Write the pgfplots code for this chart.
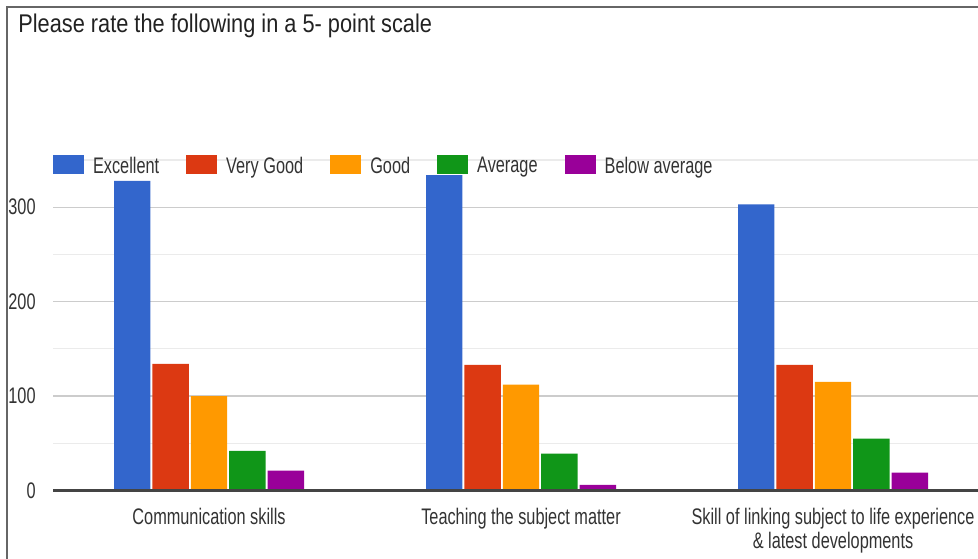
\documentclass[border=0pt]{standalone}
\usepackage{fontspec}
\setmainfont[FakeStretch=0.725]{Liberation Sans}
\newfontfamily\titlefont[FakeStretch=0.85]{Liberation Sans}
\usepackage{pgfplots}
\pgfplotsset{compat=1.18}

\definecolor{cBlue}{HTML}{3366CC}
\definecolor{cRed}{HTML}{DC3912}
\definecolor{cOrange}{HTML}{FF9900}
\definecolor{cGreen}{HTML}{109618}
\definecolor{cPurple}{HTML}{990099}
\definecolor{titlegray}{HTML}{222222}
\definecolor{labelgray}{HTML}{333333}
\definecolor{majorgrid}{HTML}{CCCCCC}
\definecolor{minorgrid}{HTML}{EBEBEB}
\definecolor{zeroline}{HTML}{444444}
\definecolor{framegray}{HTML}{666666}

% ratings per category: 0 = Communication, 1 = Teaching, 2 = Linking
\pgfplotstableread{
x  exc  vg   good avg below
0  328  134  100  42   21
1  334  133  112  39   6
2  303  133  115  55   19
}\ratings

\begin{document}
\begin{tikzpicture}
\useasboundingbox (0pt,0pt) rectangle (489pt,279pt);
\fill[white] (0pt,0pt) rectangle (489pt,279pt);
\draw[framegray, line width=1pt] (3.5pt,-1pt) -- (3.5pt,275.5pt) -- (490pt,275.5pt);
\node[anchor=base west, inner sep=0pt, text=titlegray,
      font=\titlefont\fontsize{12.8}{15}\selectfont]
  at (9pt,262.5pt) {Please rate the following in a 5- point scale};
\begin{pgfinterruptboundingbox}
\begin{axis}[
  at={(26.5pt,33.75pt)}, anchor=south west,
  scale only axis, width=462.5pt, height=165.25pt,
  xmin=-0.5, xmax=2.4647, ymin=0, ymax=350,
  axis x line*=bottom, axis y line*=left,
  x axis line style={draw=none},
  y axis line style={draw=none},
  clip=false,
  ybar=1pt, bar width=18.2pt,
  xtick={0,1,2},
  xticklabels={Communication skills, Teaching the subject matter,
    {Skill of linking subject to life experience\\\& latest developments}},
  ytick={0,100,200,300},
  minor ytick={50,150,250,350},
  ymajorgrids, yminorgrids,
  major grid style={draw=majorgrid, line width=0.6pt},
  minor grid style={draw=minorgrid, line width=0.6pt},
  major tick length=0pt, minor tick length=0pt,
  tick style={draw=none},
  /pgf/number format/assume math mode=true,
  xticklabel style={font=\fontsize{11.25}{12}\selectfont, text=labelgray,
    align=center, anchor=north, inner sep=0pt, yshift=-8.5pt},
  yticklabel style={font=\fontsize{11.25}{12}\selectfont, text=labelgray,
    anchor=east, inner sep=0pt, xshift=-8.5pt},
  legend columns=5,
  legend style={at={(axis description cs:0,0.985)}, anchor=west,
    draw=none, fill=none, inner sep=0pt, outer sep=0pt,
    font=\fontsize{11.25}{12}\selectfont, text=labelgray,
    nodes={inner sep=0pt, text depth=0pt},
    /tikz/every odd column/.append style={column sep=4.5pt},
    /tikz/every even column/.append style={column sep=13.5pt}},
  legend image code/.code={\fill[#1] (0pt,-4.75pt) rectangle (15.5pt,4.75pt);},
]
\addplot[fill=cBlue, draw=none] table[x=x, y=exc] {\ratings};
\addplot[fill=cRed, draw=none] table[x=x, y=vg] {\ratings};
\addplot[fill=cOrange, draw=none] table[x=x, y=good] {\ratings};
\addplot[fill=cGreen, draw=none] table[x=x, y=avg] {\ratings};
\addplot[fill=cPurple, draw=none] table[x=x, y=below] {\ratings};
\legend{Excellent, Very Good, Good, Average, Below average}
% baseline drawn over the foot of the bars
\draw[zeroline, line width=1.2pt] (axis cs:-0.5,0) -- (axis cs:2.4647,0);
\end{axis}
\end{pgfinterruptboundingbox}
\end{tikzpicture}
\end{document}
